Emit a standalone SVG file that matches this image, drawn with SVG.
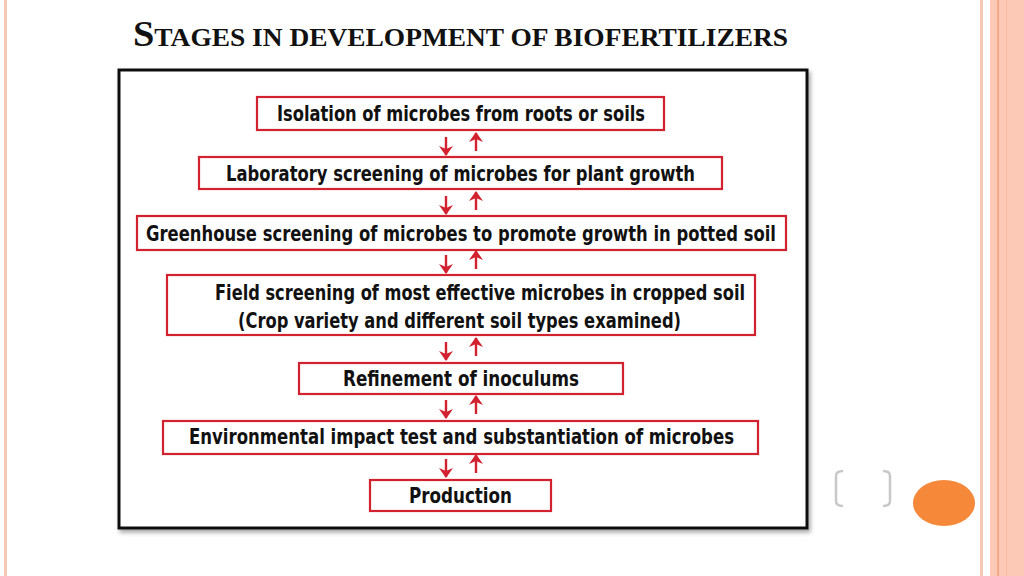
<svg xmlns="http://www.w3.org/2000/svg" width="1024" height="576" viewBox="0 0 1024 576">
<defs>
<style>
.box{fill:#fff;stroke:#d3222f;stroke-width:2.2}
.t{font-family:"Liberation Sans Narrow","DejaVu Sans Condensed","Liberation Sans",sans-serif;font-weight:bold;font-size:22px;fill:#111;text-anchor:middle}
.ar{stroke:#d3222f;stroke-width:2.4;fill:none}
.tt{font-family:"Liberation Serif",serif;font-weight:bold;fill:#111}
</style>
<marker id="ah" viewBox="0 0 10 14" refX="9" refY="7" markerWidth="10" markerHeight="14" markerUnits="userSpaceOnUse" orient="auto">
<path d="M0,0 L10,7 L0,14 L3,7 Z" fill="#d3222f"/>
</marker>
<filter id="sh" x="-5%" y="-5%" width="110%" height="110%">
<feDropShadow dx="2" dy="3" stdDeviation="2" flood-color="#000" flood-opacity="0.35"/>
</filter>
</defs>
<rect width="1024" height="576" fill="#fff"/>
<rect x="4" y="0" width="3" height="576" fill="#f8c8b6"/>
<rect x="980" y="0" width="3" height="576" fill="#f8c8b6"/>
<rect x="990" y="0" width="34" height="576" fill="#fcc9b6"/>
<rect x="997.5" y="0" width="1.2" height="576" fill="#f0936a"/>
<rect x="1006" y="0" width="1" height="576" fill="#f8b89e"/>
<text class="tt" x="133" y="46" textLength="655" lengthAdjust="spacingAndGlyphs"><tspan font-size="35">S</tspan><tspan font-size="25">TAGES IN DEVELOPMENT OF BIOFERTILIZERS</tspan></text>
<rect x="119" y="70" width="688" height="458" fill="#fff" stroke="#111" stroke-width="3" filter="url(#sh)"/>
<g id="n1"><rect class="box" x="257" y="97" width="407" height="33"/><text class="t" x="461" y="121" textLength="368" lengthAdjust="spacingAndGlyphs">Isolation of microbes from roots or soils</text></g>
<g id="n2"><rect class="box" x="199" y="157" width="523" height="32"/><text class="t" x="460.5" y="181" textLength="469" lengthAdjust="spacingAndGlyphs">Laboratory screening of microbes for plant growth</text></g>
<g id="n3"><rect class="box" x="137" y="216" width="649" height="34"/><text class="t" x="461" y="241" textLength="630" lengthAdjust="spacingAndGlyphs">Greenhouse screening of microbes to promote growth in potted soil</text></g>
<g id="n4"><rect class="box" x="167" y="275" width="588" height="60"/><text class="t" x="480" y="300" textLength="530" lengthAdjust="spacingAndGlyphs">Field screening of most effective microbes in cropped soil</text><text class="t" x="459.5" y="328" textLength="443" lengthAdjust="spacingAndGlyphs">(Crop variety and different soil types examined)</text></g>
<g id="n5"><rect class="box" x="299" y="363" width="324" height="31"/><text class="t" x="461" y="386" textLength="236" lengthAdjust="spacingAndGlyphs">Refinement of inoculums</text></g>
<g id="n6"><rect class="box" x="163" y="421" width="595" height="33"/><text class="t" x="461.5" y="444" textLength="545" lengthAdjust="spacingAndGlyphs">Environmental impact test and substantiation of microbes</text></g>
<g id="n7"><rect class="box" x="370" y="480" width="181" height="31"/><text class="t" x="460.5" y="503" textLength="103" lengthAdjust="spacingAndGlyphs">Production</text></g>
<g id="connectors">
<line class="ar" x1="446" y1="137" x2="446" y2="155" marker-end="url(#ah)"/>
<line class="ar" x1="476" y1="151" x2="476" y2="133" marker-end="url(#ah)"/>
<line class="ar" x1="446" y1="196" x2="446" y2="214" marker-end="url(#ah)"/>
<line class="ar" x1="476" y1="210" x2="476" y2="192" marker-end="url(#ah)"/>
<line class="ar" x1="446" y1="255" x2="446" y2="273" marker-end="url(#ah)"/>
<line class="ar" x1="476" y1="269" x2="476" y2="251" marker-end="url(#ah)"/>
<line class="ar" x1="446" y1="342" x2="446" y2="360" marker-end="url(#ah)"/>
<line class="ar" x1="476" y1="356" x2="476" y2="338" marker-end="url(#ah)"/>
<line class="ar" x1="446" y1="400" x2="446" y2="418" marker-end="url(#ah)"/>
<line class="ar" x1="476" y1="414" x2="476" y2="396" marker-end="url(#ah)"/>
<line class="ar" x1="446" y1="459" x2="446" y2="477" marker-end="url(#ah)"/>
<line class="ar" x1="476" y1="473" x2="476" y2="455" marker-end="url(#ah)"/>
</g>
<path d="M843,471 Q836,471 836,476 L836,501 Q836,506 843,506" fill="none" stroke="#c8c8c8" stroke-width="2.5"/>
<path d="M883,471 Q890,471 890,476 L890,501 Q890,506 883,506" fill="none" stroke="#c8c8c8" stroke-width="2.5"/>
<ellipse cx="944" cy="503" rx="31" ry="23" fill="#f6883a"/>
</svg>
